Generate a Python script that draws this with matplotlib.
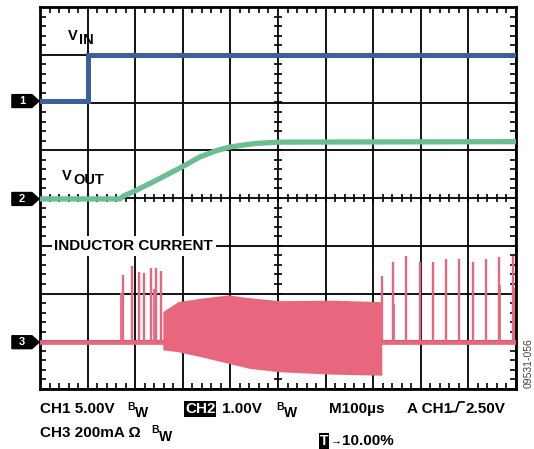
"""
Scope capture: VIN, VOUT and inductor current at start-up
"""

import numpy as np
import matplotlib.pyplot as plt
from matplotlib.patches import Polygon
from matplotlib.lines import Line2D

plt.rcParams['font.family'] = ['Liberation Sans', 'DejaVu Sans']

# traces, in screen divisions (x: 0-10, y: 0-8)
vin_t = [0, 1.0, 1.0, 10]
vin_v = [6.03, 6.03, 6.99, 6.99]

vout_t = [0, 1.68, 1.75, 2.0, 2.5, 3.0, 3.36, 3.7, 4.0, 4.5, 5.0, 10]
vout_v = [3.98, 3.98, 4.04, 4.15, 4.40, 4.66, 4.86, 4.99, 5.07, 5.14, 5.17, 5.18]

il_base = 0.98
env_t = [2.58, 2.9, 3.36, 3.95, 4.41, 5.04, 6.16, 7.14, 7.18]
env_hi = [1.62, 1.83, 1.90, 1.97, 1.91, 1.85, 1.86, 1.83, 1.83]
env_lo = [0.82, 0.78, 0.68, 0.54, 0.43, 0.36, 0.31, 0.29, 0.29]

pulse_l_t = [1.75, 1.93, 2.07, 2.19, 2.33, 2.44, 2.54]
pulse_l_v = [2.39, 2.58, 2.46, 2.42, 2.53, 2.53, 2.48]
pulse_r_t = [7.18, 7.41, 7.69, 7.98, 8.25, 8.53, 8.81, 9.09, 9.37, 9.65, 9.93]
pulse_r_v = [2.37, 2.67, 2.79, 2.67, 2.67, 2.72, 2.72, 2.67, 2.72, 2.77, 2.79]
pulse_2_t = [1.71, 2.39, 7.44, 9.67, 9.96]
pulse_2_v = [2.02, 2.10, 1.79, 2.18, 2.11]

ch_levels = {'1': 6.03, '2': 3.98, '3': 0.98}

BLUE = '#3d5f9b'
GREEN = '#6cbd93'
PINK = '#e8677f'

W, H = 534, 449
fig = plt.figure(figsize=(W / 100, H / 100), dpi=100)
ax = fig.add_axes([40 / W, 1 - 389 / H, 476 / W, 382 / H])

def fx(x):
    return x / W

def fy(y):
    return 1 - y / H

# graticule
ax.set(xlim=(0, 10), ylim=(0, 8))
ax.set_xticks(range(11))
ax.set_yticks(range(9))
ax.set_xticks(np.arange(0, 10.01, 0.2), minor=True)
ax.set_yticks(np.arange(0, 8.01, 0.2), minor=True)
ax.tick_params(which='major', length=0, labelbottom=False, labelleft=False)
ax.tick_params(which='minor', direction='in', length=4, width=1.2,
               top=True, right=True, bottom=True, left=True)
ax.grid(which='major', color='black', lw=1.3)
for s in ax.spines.values():
    s.set_linewidth(2)
ax.set_axisbelow(True)
# centre cross ticks
cx = np.arange(0.2, 10, 0.2)
cy = np.arange(0.2, 8, 0.2)
ax.plot(cx, np.full_like(cx, 4), '|', color='black', ms=6, mew=1.2, zorder=1)
ax.plot(np.full_like(cy, 5), cy, '_', color='black', ms=6, mew=1.2, zorder=1)

# traces
ax.plot(vin_t, vin_v, color=BLUE, lw=3.6, zorder=3, solid_joinstyle='miter')
ax.plot(vout_t, vout_v, color=GREEN, lw=3.8, zorder=3)
ax.plot([0, 10], [il_base, il_base], color=PINK, lw=3.4, zorder=3)
ax.fill_between(env_t, env_lo, env_hi, color=PINK, lw=0, zorder=3)
ax.vlines(pulse_l_t + pulse_r_t, il_base, pulse_l_v + pulse_r_v, color=PINK, lw=1.7, zorder=3)
ax.vlines(pulse_2_t, il_base, pulse_2_v, color=PINK, lw=1.3, zorder=3)

# labels on screen
lab = dict(fontsize=10.5, fontweight='bold', va='baseline')
fig.text(fx(67.5), fy(39.5), 'V', **lab)
fig.text(fx(79), fy(43.5), 'IN', **lab)
fig.text(fx(61.5), fy(180.5), 'V', **lab)
fig.text(fx(73.5), fy(184.5), 'OUT', **lab)
ax.text(0.3, 3.0, 'INDUCTOR CURRENT', fontsize=11, fontweight='bold', va='center', zorder=4,
        bbox=dict(facecolor='white', edgecolor='none', pad=2))

# channel markers
for name, lvl in ch_levels.items():
    hh = 0.135
    p = Polygon([(-0.59, lvl - hh), (-0.17, lvl - hh), (-0.02, lvl), (-0.17, lvl + hh), (-0.59, lvl + hh)],
                closed=True, color='black', clip_on=False)
    ax.add_patch(p)
    ax.text(-0.38, lvl, name, color='white', fontsize=8, fontweight='bold', ha='center', va='center',
            clip_on=False)

# readout under the screen
bold = dict(fontsize=11, fontweight='bold', va='baseline')
sub_b = dict(fontsize=7.5, fontweight='bold', va='baseline')
sub_w = dict(fontsize=10, fontweight='bold', va='baseline')
fig.text(fx(40), fy(413), 'CH1 5.00V', **bold)
fig.text(fx(127), fy(409.5), 'B', **sub_b)
fig.text(fx(134.5), fy(417), 'W', **sub_w)
fig.text(fx(185), fy(413), 'CH2', color='white', fontsize=11, fontweight='bold', va='baseline',
         bbox=dict(facecolor='black', edgecolor='none', pad=0.6))
fig.text(fx(222), fy(413), '1.00V', **bold)
fig.text(fx(276), fy(409.5), 'B', **sub_b)
fig.text(fx(283.5), fy(417), 'W', **sub_w)
fig.text(fx(329), fy(413), 'M100\u00b5s', **bold)
fig.text(fx(407), fy(413), 'A CH1', **bold)
fig.add_artist(Line2D([fx(451), fx(456), fx(459), fx(464)], [fy(411.5), fy(411.5), fy(402), fy(402)],
                      color='black', lw=1.2))
fig.text(fx(466), fy(413), '2.50V', **bold)

fig.text(fx(40), fy(437), 'CH3 200mA \u03a9', **bold)
fig.text(fx(151), fy(433), 'B', **sub_b)
fig.text(fx(158.5), fy(441), 'W', **sub_w)
fig.text(fx(320), fy(445), 'T', color='white', fontsize=10, fontweight='bold', va='baseline',
         bbox=dict(facecolor='black', edgecolor='none', pad=0.8))
fig.text(fx(331), fy(443), '\u2192', fontsize=8, fontweight='bold', va='baseline')
fig.text(fx(342), fy(445), '10.00%', **bold)

fig.text(fx(529), fy(363), '09531-056', rotation=90, fontsize=7.5, color='#444444',
         ha='center', va='center')

plt.savefig('out.png', dpi=100)
